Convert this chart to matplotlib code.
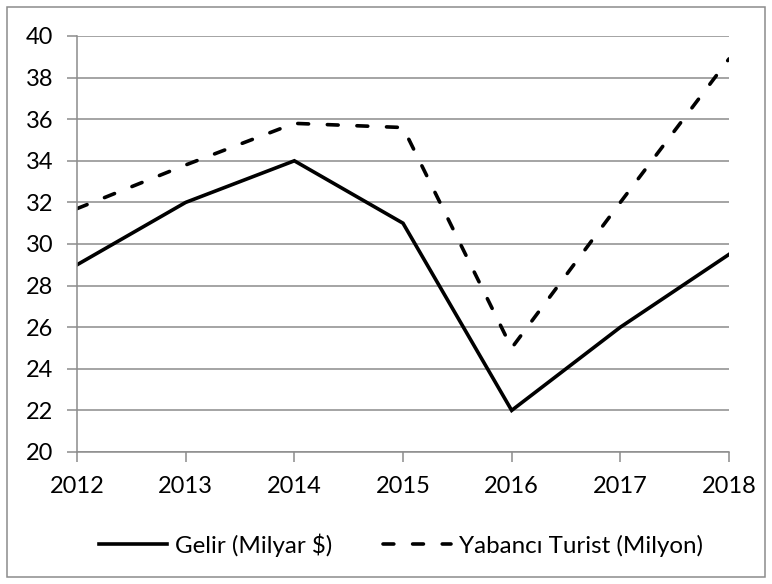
import matplotlib.pyplot as plt
from matplotlib.ticker import MultipleLocator
from matplotlib.patches import Rectangle

plt.rcParams['font.family'] = ['Lato', 'DejaVu Sans']

# veriler
years = [2012, 2013, 2014, 2015, 2016, 2017, 2018]
gelir = [29, 32, 34, 31, 22, 26, 29.5]
turist = [31.7, 33.8, 35.8, 35.6, 25.0, 32.0, 38.9]

fig = plt.figure(figsize=(7.72, 5.84), dpi=100)
ax = fig.add_axes([77 / 772, 1 - 452 / 584, (729 - 77) / 772, (452 - 36) / 584])

ax.plot(years, gelir, color='black', linewidth=2.6, label='Gelir (Milyar $)',
        solid_joinstyle='miter')
ax.plot(years, turist, color='black', linewidth=2.6, linestyle=(0, (3.0, 5.2)),
        dash_capstyle='round', label='Yabancı Turist (Milyon)')

ax.set_xlim(2012, 2018)
ax.set_ylim(20, 40)
ax.xaxis.set_major_locator(MultipleLocator(1))
ax.yaxis.set_major_locator(MultipleLocator(2))
ax.grid(axis='y', color='#8c8c8c', linewidth=1.1)
ax.set_axisbelow(True)

for s in ['top', 'right']:
    ax.spines[s].set_visible(False)
for s in ['left', 'bottom']:
    ax.spines[s].set_color('#8c8c8c')
    ax.spines[s].set_linewidth(1.1)
ax.tick_params(axis='both', colors='#8c8c8c', width=1.1, length=7,
               labelcolor='black', labelsize=17)
ax.tick_params(axis='x', pad=10)
ax.tick_params(axis='y', pad=10)
ax.spines['bottom'].set_zorder(0)

ax.legend(loc='center', bbox_to_anchor=(401 / 772, (584 - 545) / 584), bbox_transform=fig.transFigure,
          ncol=2, frameon=False, fontsize=17.4, handlelength=2.8, handletextpad=0.35,
          columnspacing=2.1)

fig.patches.append(Rectangle((7 / 772, 7 / 584), 758 / 772, 570 / 584, transform=fig.transFigure,
                             fill=False, edgecolor='#8c8c8c', linewidth=1.1))

fig.savefig('out.png', dpi=100)
